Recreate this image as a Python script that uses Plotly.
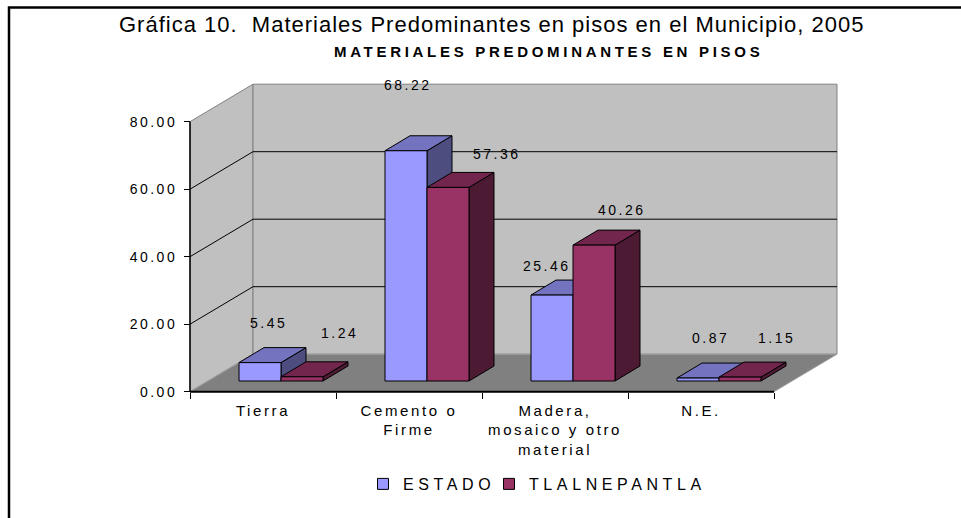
import plotly.graph_objects as go

# ---------------- data ----------------
categories = ["Tierra", "Cemento o\nFirme", "Madera,\nmosaico y otro\nmaterial", "N.E."]
estado = [5.45, 68.22, 25.46, 0.87]
tlalnepantla = [1.24, 57.36, 40.26, 1.15]
series_names = ["ESTADO", "TLALNEPANTLA"]
y_tick_values = [0, 20, 40, 60, 80]
y_tick_labels = ["0.00", "20.00", "40.00", "60.00", "80.00"]
title_text = "Gráfica 10.&nbsp; Materiales Predominantes en pisos en el Municipio, 2005"
subtitle_text = "MATERIALES PREDOMINANTES EN PISOS"

# ---------------- styles ----------------
FRONT = ["#9999FF", "#993366"]
TOP = ["#7373BF", "#73264D"]
SIDE = ["#4D4D80", "#4D1A33"]
WALL = "#C0C0C0"
WALL_EDGE = "#808080"
FLOOR = "#808080"
FONT = "Liberation Sans, Arial, sans-serif"

# ---------------- geometry (pixels) ----------------
W, H = 961, 518
PL, PR, PT, PB = 180, 845, 78, 400          # plot area box
X0PX, Y0PX = 190, 391.7                     # front origin of the axes
CAT_PX, UNIT_PX = 146, 3.375                # px per category, px per value unit
WALL_DX, WALL_DY = 63, 37.5                 # depth of the 3D box
BAR_OFF_X, BAR_OFF_Y = 18, 10.7             # bar front plane inset
BAR_W = 42
BAR_DX, BAR_DY = 25, 15                     # bar depth
# data-label offsets from the bar's top-front centre (px), per series / category
LABEL_DX = [[8, 2, -5, 12], [37, 49, 28, 36]]
LABEL_DY = [[40, 66, 29, 40], [44, 33, 35, 39]]
LEGEND_X = [363, 489]                       # legend entry left edges (px)
LEGEND_Y = 484


def dx(px):
    return px / CAT_PX


def dy(px):
    return px / UNIT_PX


def paper_x(px):
    return (px - PL) / (PR - PL)


def paper_y(py):
    return (PB - py) / (PB - PT)


def ls(text, sp):
    return "<br>".join(
        f"<span style='letter-spacing:{sp}px'>{t}</span>" for t in text.split("\n")
    )


ncat = len(categories)
ymax = max(y_tick_values)
wdx, wdy = dx(WALL_DX), dy(WALL_DY)

fig = go.Figure()


def poly(xs, ys, fill, line="black", width=1):
    fig.add_trace(go.Scatter(
        x=xs + [xs[0]], y=ys + [ys[0]], mode="lines", fill="toself",
        fillcolor=fill, line=dict(color=line, width=width),
        hoverinfo="skip", showlegend=False))


def seg(xs, ys, color, width):
    fig.add_trace(go.Scatter(
        x=xs, y=ys, mode="lines", line=dict(color=color, width=width),
        hoverinfo="skip", showlegend=False))


# walls and floor
poly([0, 0, wdx, wdx], [0, ymax, ymax + wdy, wdy], WALL, WALL_EDGE)
poly([wdx, wdx, ncat + wdx, ncat + wdx], [wdy, ymax + wdy, ymax + wdy, wdy], WALL, WALL_EDGE)
poly([0, ncat, ncat + wdx, wdx], [0, 0, wdy, wdy], FLOOR, "#A0A0A0")

# gridlines on side and back walls
for v in y_tick_values[1:-1]:
    seg([0, wdx, ncat + wdx], [v, v + wdy, v + wdy], "black", 1)

# axis lines
seg([0, 0], [0, ymax], "black", 1.5)
seg([0, ncat], [0, 0], "black", 2)

# bars (side, top, front faces)
bx0, by0 = dx(BAR_OFF_X), dy(BAR_OFF_Y)
bw = dx(BAR_W)
bdx, bdy = dx(BAR_DX), dy(BAR_DY)
series = [estado, tlalnepantla]
for i in range(ncat):
    for s, vals in enumerate(series):
        v = vals[i]
        xl = i + 0.5 + bx0 - bw + s * bw
        xr = xl + bw
        yb, yt = by0, by0 + v
        poly([xr, xr + bdx, xr + bdx, xr], [yb, yb + bdy, yt + bdy, yt], SIDE[s])
        poly([xl, xr, xr + bdx, xl + bdx], [yt, yt, yt + bdy, yt + bdy], TOP[s])
        poly([xl, xr, xr, xl], [yb, yb, yt, yt], FRONT[s])
        fig.add_annotation(
            x=xl + bw / 2, y=yt, text=ls(f"{v:.2f}", 2.5), showarrow=False,
            xanchor="center", yanchor="middle",
            xshift=LABEL_DX[s][i], yshift=LABEL_DY[s][i],
            font=dict(family=FONT, size=14, color="black"))

# legend entries (one legend box per series so each can be placed)
for s, name in enumerate(series_names):
    fig.add_trace(go.Scatter(
        x=[None], y=[None], mode="markers", name=ls(name, 4.6),
        legend="legend" if s == 0 else "legend2",
        marker=dict(symbol="square", size=11, color=FRONT[s],
                    line=dict(color="black", width=1))))

# titles
fig.add_annotation(
    xref="paper", yref="paper", x=paper_x(491), y=paper_y(25),
    xanchor="center", yanchor="middle", text=ls(title_text, 1),
    showarrow=False, font=dict(family=FONT, size=22, color="black"))
fig.add_annotation(
    xref="paper", yref="paper", x=paper_x(548), y=paper_y(52),
    xanchor="center", yanchor="middle",
    text="<b>" + ls(subtitle_text, 3.7) + "</b>",
    showarrow=False, font=dict(family=FONT, size=15, color="black"))

# frame
fig.add_shape(type="rect", xref="paper", yref="paper",
              x0=paper_x(9), y0=paper_y(7.5), x1=paper_x(1000), y1=paper_y(600),
              line=dict(color="black", width=2.5))

legend_style = dict(font=dict(family=FONT, size=16, color="black"),
                    bgcolor="rgba(0,0,0,0)", xanchor="left", yanchor="middle",
                    orientation="h")

fig.update_layout(
    width=W, height=H, autosize=False,
    margin=dict(l=PL, r=W - PR, t=PT, b=H - PB, autoexpand=False),
    paper_bgcolor="white", plot_bgcolor="rgba(0,0,0,0)",
    xaxis=dict(
        range=[(PL - X0PX) / CAT_PX, (PR - X0PX) / CAT_PX],
        anchor="free", position=paper_y(Y0PX),
        tickmode="array", tickvals=[i + 0.5 for i in range(ncat)],
        ticktext=[ls(c, 2.6) for c in categories], ticks="",
        showgrid=False, zeroline=False, showline=False,
        ticklabelstandoff=8,
        tickfont=dict(family=FONT, size=15, color="black"),
        minor=dict(tickmode="array", tickvals=list(range(ncat + 1)),
                   ticks="outside", ticklen=6, tickcolor="black", showgrid=False)),
    yaxis=dict(
        range=[(Y0PX - PB) / UNIT_PX, (Y0PX - PT) / UNIT_PX],
        anchor="free", position=paper_x(X0PX),
        tickmode="array", tickvals=y_tick_values,
        ticktext=[ls(t, 2.5) for t in y_tick_labels],
        ticks="outside", ticklen=6, tickcolor="black",
        showgrid=False, zeroline=False, showline=False,
        ticklabelstandoff=4,
        tickfont=dict(family=FONT, size=14, color="black")),
    showlegend=True,
    legend=dict(x=paper_x(LEGEND_X[0]), y=paper_y(LEGEND_Y), **legend_style),
    legend2=dict(x=paper_x(LEGEND_X[1]), y=paper_y(LEGEND_Y), **legend_style),
)

fig.write_html("out.html", config={"displayModeBar": False},
               post_script="document.body.style.margin='0px';")
